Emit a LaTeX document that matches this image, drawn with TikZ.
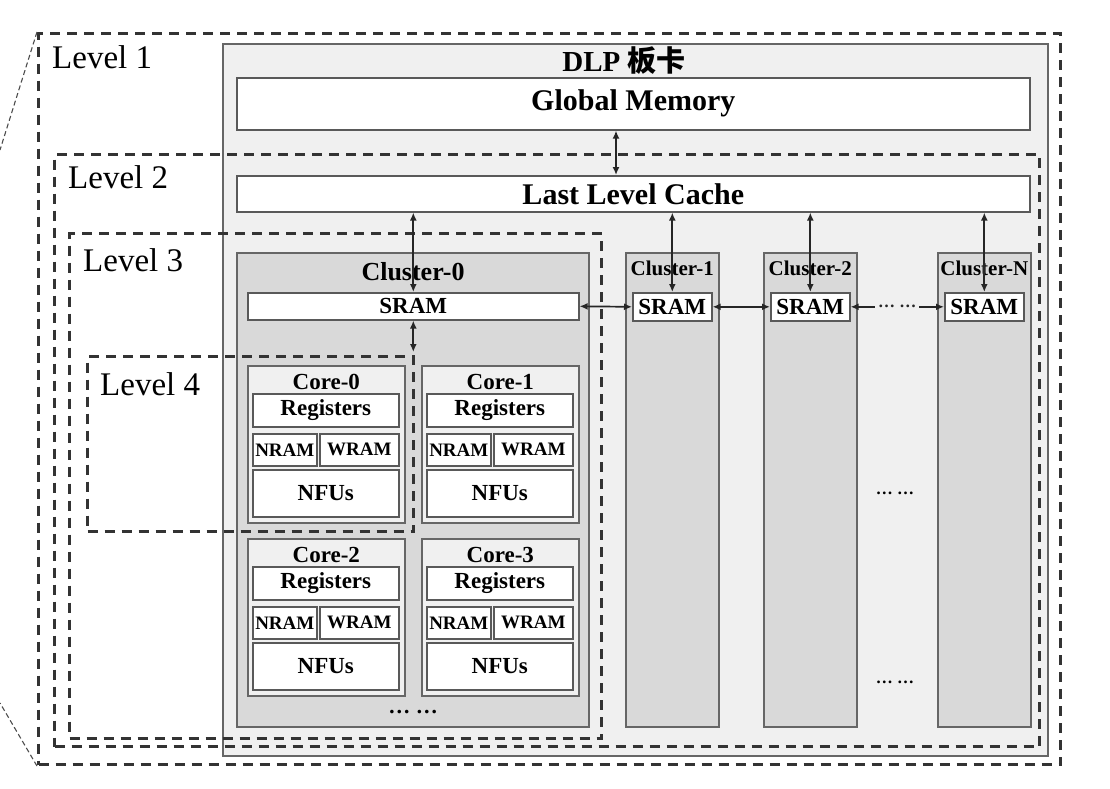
\documentclass[tikz,border=0pt]{standalone}
\usepackage{fontspec}
\setmainfont{Liberation Serif}
\newfontfamily\cjkfont{Noto Sans CJK SC}
\usetikzlibrary{positioning, arrows.meta, calc}

\newcommand\pxfont[1]{\fontsize{#1}{#1}\selectfont}

\begin{document}
\begin{tikzpicture}[
    x=1pt, y=-1pt,
    wh/.style 2 args={minimum width=#1pt, minimum height=#2pt},
    panel/.style={draw=black!60, line width=1.6pt, inner sep=0, anchor=north west},
    membox/.style={draw=black!65, fill=white, line width=1.6pt, inner sep=0, anchor=north west, font=\bfseries\pxfont{23}},
    levelbox/.style={draw=black!80, line width=3pt, dash pattern=on 10pt off 7pt, inner sep=0, anchor=north west},
    levellabel/.style={font=\pxfont{33}, inner sep=0, anchor=west},
    fanline/.style={draw=black!70, line width=1.1pt, dash pattern=on 5pt off 3pt},
    link/.style={{Latex[length=8pt,width=7pt]}-{Latex[length=8pt,width=7pt]}, line width=1.7pt, black!85},
    dotsnode/.style={inner sep=0, font=\bfseries\pxfont{17}}
]
    \useasboundingbox (0,0) rectangle (1110,788);

    % === Board ===
    \node[panel, fill=black!6, wh={825}{712}] (board) at (222,43) {};
    \node[font=\bfseries\pxfont{29}] (boardname) at (624,61) {DLP {\cjkfont 板卡}};
    \node[membox, font=\bfseries\pxfont{30}, wh={793}{52}] (gm) at (236,77) {Global Memory};
    \node[membox, font=\bfseries\pxfont{30}, wh={793}{36}] (llc) at (236,175) {Last Level Cache};

    % === Clusters ===
    \node[panel, fill=black!15, wh={352}{474}] (c0) at (236,252) {};
    \node[font=\bfseries\pxfont{26}] (c0name) at (413,272) {Cluster-0};
    \node[membox, wh={331}{27}] (c0sram) at (247,292) {SRAM};
    \foreach \i/\x in {1/625, 2/763, N/937} {
        \node[panel, fill=black!15, wh={93}{474}] (c\i) at (\x,252) {};
        \node[font=\bfseries\pxfont{21}] (n\i) at ($(c\i.north)+(0,16)$) {Cluster-\i};
        \node[membox, wh={79}{28}] (s\i) at ($(c\i.north west)+(7,40)$) {SRAM};
    }

    % === Cores ===
    \foreach \i/\x/\y in {0/247/365, 1/421/365, 2/247/538, 3/421/538} {
        \node[panel, fill=black!6, wh={157}{157}] (core\i) at (\x,\y) {};
        \node[font=\bfseries\pxfont{23}] (corename\i) at ($(core\i.north)+(0,17)$) {Core-\i};
        \node[membox, wh={146}{33}] (reg\i) at ($(core\i.north west)+(5,28)$) {Registers};
        \node[membox, font=\bfseries\pxfont{19}, wh={64}{32}] (nram\i) at ($(core\i.north west)+(5,68)$) {NRAM};
        \node[membox, font=\bfseries\pxfont{19}, wh={79}{32}] (wram\i) at ($(core\i.north west)+(72,68)$) {WRAM};
        \node[membox, wh={146}{47}] (nfu\i) at ($(core\i.north west)+(5,104)$) {NFUs};
    }
    \node[dotsnode, font=\bfseries\pxfont{22}] (coredots) at (413,712) {… …};
    \node[dotsnode] (gapdots1) at (895,493) {… …};
    \node[dotsnode] (gapdots2) at (895,682) {… …};

    % === Levels ===
    \node[levelbox, wh={1022}{731}] (lv1) at (37,32) {};
    \node[levelbox, wh={985}{592}] (lv2) at (53,153) {};
    \node[levelbox, wh={532}{505}] (lv3) at (68,232) {};
    \node[levelbox, wh={326}{175}] (lv4) at (86,355) {};
    \node[levellabel] (lv1text) at (52,57) {Level 1};
    \node[levellabel] (lv2text) at (68,177) {Level 2};
    \node[levellabel] (lv3text) at (83,260) {Level 3};
    \node[levellabel] (lv4text) at (100,384) {Level 4};
    \coordinate (fantop) at (0,150);
    \coordinate (fanbot) at (0,703);
    \draw[fanline] (lv1.north west) -- (fantop);
    \draw[fanline] (lv1.south west) -- (fanbot);

    % === Links ===
    \coordinate (gmbus) at (616,0);
    \draw[link] (gmbus |- gm.south) -- (gmbus |- llc.north);
    \draw[link] (c0sram.north |- llc.south) -- (c0sram.north);
    \foreach \i in {1,2,N}
        \draw[link] (s\i.north |- llc.south) -- (s\i.north);
    \draw[link] (c0sram.south) -- ($(c0sram.south |- lv4.north)+(0,-3)$);
    \draw[link] (c0sram.east) -- (s1.west);
    \draw[link] (s1.east) -- (s2.west);
    \draw[link] (s2.east) -- node[dotsnode, fill=black!6, inner xsep=3pt] (sdots) {… …} (sN.west);
\end{tikzpicture}
\end{document}
